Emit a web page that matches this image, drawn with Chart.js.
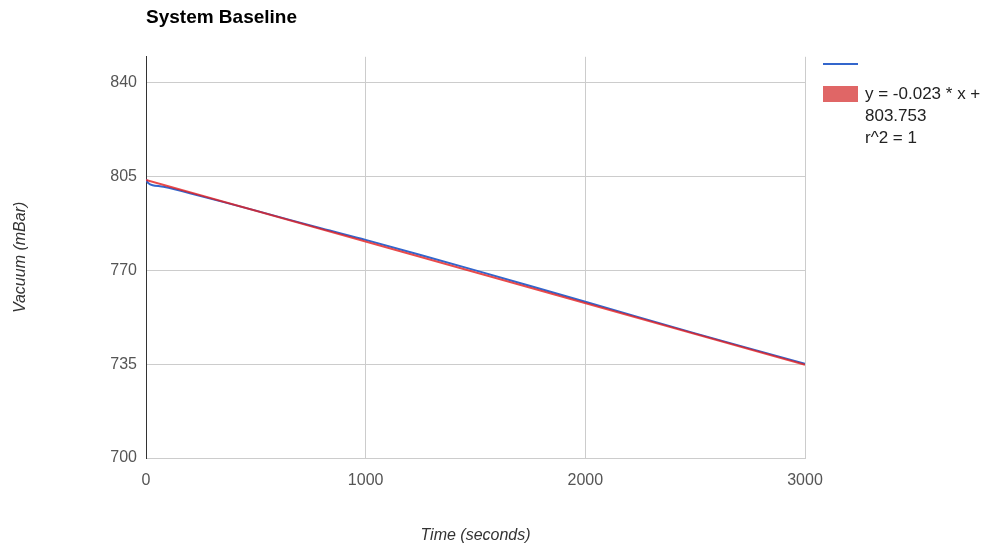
<!DOCTYPE html>
<html>
<head>
<meta charset="utf-8">
<script src="https://cdn.jsdelivr.net/npm/chart.js@4/dist/chart.umd.min.js"></script>
<style>
  body { margin: 0; background: #fff; font-family: "Liberation Sans", Arial, sans-serif; }
  #wrap { position: relative; width: 991px; height: 548px; }
  #legend { position: absolute; left: 823px; top: 54px; font-size: 17px; color: #222; }
  .lg-line { position: absolute; left: 0; top: 9px; width: 35px; height: 2px; background: #3366cc; }
  .lg-box { position: absolute; left: 0; top: 32px; width: 35px; height: 16px; background: #e06666; }
  .lg-text { position: absolute; left: 42px; top: 29px; width: 160px; line-height: 22px; white-space: nowrap; }
</style>
</head>
<body>
<div id="wrap">
  <canvas id="chart"></canvas>
  <div id="legend">
    <div class="lg-line"></div>
    <div class="lg-box"></div>
    <div class="lg-text">y = -0.023 * x +<br>803.753<br>r^2 = 1</div>
  </div>
</div>
<script>
const timeSec = [0, 10, 30, 80, 200, 500, 800, 1000, 1500, 2000, 2500, 3000];
const vacuum = [804.0, 802.6, 801.8, 801.2, 798.8, 792.3, 785.6, 781.4, 770.0, 758.3, 746.5, 735.2];
// droite de tendance
const trendTime = [0, 3000];
const trendVacuum = [803.753, 734.753];
const xTicks = [0, 1000, 2000, 3000];
const yTicks = [700, 735, 770, 805, 840];

const toPts = (xs, ys) => xs.map((x, i) => ({ x: x, y: ys[i] }));
const FAM = '"Liberation Sans", Arial, sans-serif';
const tickFont = { family: FAM, size: 16 };
const titleFont = { family: FAM, size: 16, style: 'italic' };

const ctx = document.getElementById('chart').getContext('2d');
new Chart(ctx, {
  type: 'line',
  data: {
    datasets: [
      { label: 'trend', data: toPts(trendTime, trendVacuum), borderColor: 'rgba(228,30,30,0.8)',
        borderWidth: 2, pointRadius: 0, order: 0 },
      { label: 'vacuum', data: toPts(timeSec, vacuum), borderColor: '#3366cc',
        borderWidth: 2, pointRadius: 0, tension: 0.3, order: 1 }
    ]
  },
  options: {
    responsive: true,
    maintainAspectRatio: false,
    animation: false,
    layout: { padding: { left: 0, right: 186, top: 0, bottom: 0 } },
    plugins: {
      legend: { display: false },
      tooltip: { enabled: false },
      title: {
        display: true, text: 'System Baseline', align: 'start', fullSize: false,
        color: '#000', padding: { top: 6, bottom: 28 },
        font: { family: FAM, size: 19, weight: 'bold' }
      }
    },
    scales: {
      x: {
        type: 'linear', min: 0, max: 3000,
        afterBuildTicks: s => { s.ticks = xTicks.map(v => ({ value: v })); },
        afterFit: s => { s.height = 90; },
        grid: { color: '#cccccc', drawTicks: false },
        border: { color: '#cccccc' },
        ticks: { color: '#555', font: tickFont, padding: 13, maxRotation: 0, callback: v => String(v) },
        title: { display: true, text: 'Time (seconds)', color: '#333', font: titleFont, padding: { top: 0, bottom: 3 } }
      },
      y: {
        min: 700, max: 849.7,
        afterBuildTicks: s => { s.ticks = yTicks.map(v => ({ value: v })); },
        afterFit: s => { s.width = 146; },
        grid: { color: '#cccccc', drawTicks: false },
        border: { color: '#333333' },
        ticks: { color: '#555', font: tickFont, padding: 9 },
        title: { display: true, text: 'Vacuum (mBar)', color: '#333', font: titleFont, padding: { top: 11, bottom: 0 } }
      }
    }
  }
});
</script>
</body>
</html>
